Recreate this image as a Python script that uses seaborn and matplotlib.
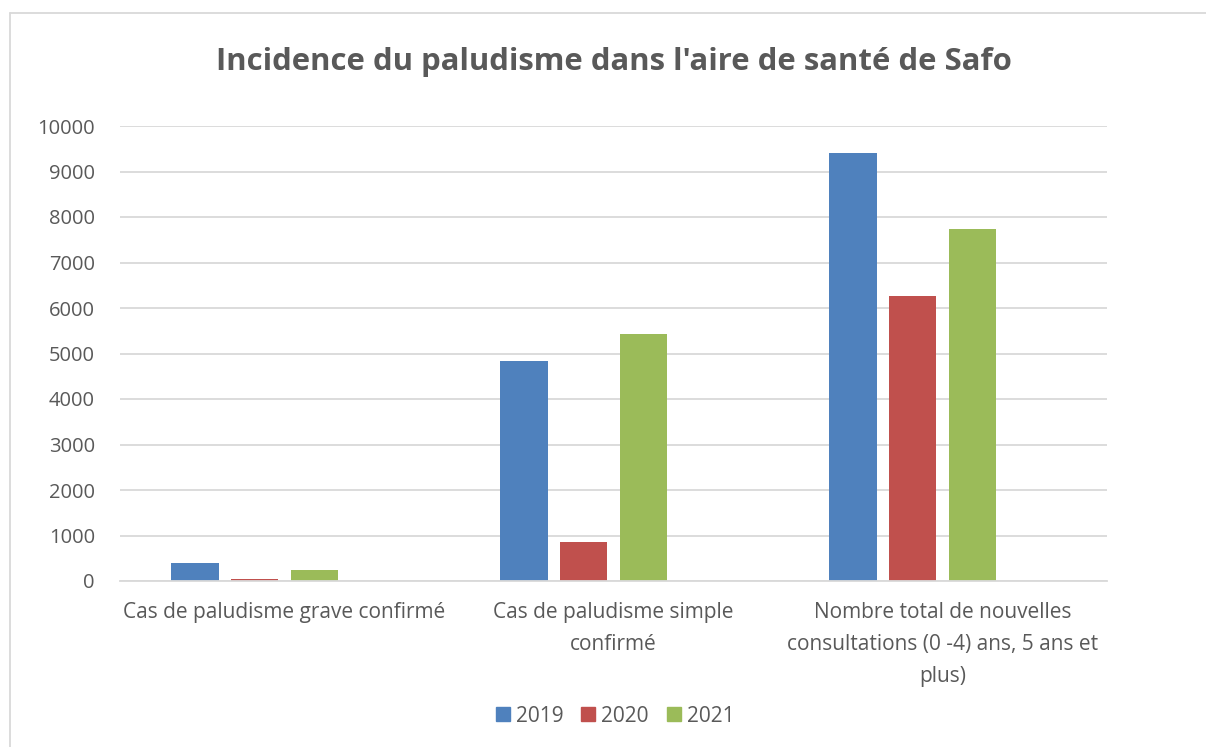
import numpy as np
import pandas as pd
import matplotlib
matplotlib.use("Agg")
import matplotlib.pyplot as plt
from matplotlib.lines import Line2D
from matplotlib.patches import Patch
import seaborn as sns

categories = ["Cas de paludisme grave confirmé",
              "Cas de paludisme simple\nconfirmé",
              "Nombre total de nouvelles\nconsultations (0 -4) ans, 5 ans et\nplus)"]
years = ["2019", "2020", "2021"]
v2019 = [400, 4830, 9410]
v2020 = [45, 860, 6260]
v2021 = [245, 5430, 7740]
# empty fourth series in the source sheet (keeps the bars off-centre)
v_empty = [0, 0, 0]

colors = ["#4F81BD", "#C0504D", "#9BBB59", "#FFFFFF"]
text_gray = "#595959"
grid_gray = "#D9D9D9"

rows = []
for name, vals in zip(years + [" "], [v2019, v2020, v2021, v_empty]):
    for c, v in zip(categories, vals):
        rows.append({"cat": c, "year": name, "value": v})
df = pd.DataFrame(rows)

sns.set_theme(style="white")
plt.rcParams["font.family"] = ["Open Sans", "DejaVu Sans"]

fig = plt.figure(figsize=(12.06, 7.47), dpi=100)
ax = fig.add_axes([120 / 1206, 1 - 581 / 747, 987 / 1206, 455 / 747])

sns.barplot(data=df, x="cat", y="value", hue="year",
            hue_order=years + [" "], palette=colors, saturation=1,
            width=0.725, gap=0.21, linewidth=0, ax=ax, legend=False)

ax.set_ylim(0, 10000)
ax.set_xlim(-0.5, 2.5)
ax.set_yticks(np.arange(0, 10001, 1000))
ax.yaxis.grid(True, color=grid_gray, linewidth=1.3)
ax.set_axisbelow(True)
for s in ["top", "right", "left"]:
    ax.spines[s].set_visible(False)
ax.spines["bottom"].set_color(grid_gray)
ax.spines["bottom"].set_linewidth(1.3)
ax.tick_params(axis="both", length=0, colors=text_gray)
ax.tick_params(axis="y", pad=18, labelsize=14.5)
ax.tick_params(axis="x", pad=15, labelsize=15)
for lbl in ax.get_xticklabels():
    lbl.set_linespacing(1.7)
ax.set_xlabel("")
ax.set_ylabel("")

ax.set_title("Incidence du paludisme dans l'aire de santé de Safo",
             fontsize=22.4, fontweight="bold", color=text_gray, pad=40)

handles = [Patch(color=c, label=y) for c, y in zip(colors[:3], years)]
fig.legend(handles=handles, loc="center", bbox_to_anchor=(615 / 1206, 1 - 716 / 747),
           ncol=3, frameon=False, fontsize=15, labelcolor=text_gray,
           handlelength=0.67, handleheight=0.67, handletextpad=0.3, columnspacing=0.85)

# chart area frame (only top and left edges fall inside the picture)
fig.add_artist(Line2D([9.5 / 1206, 9.5 / 1206], [0, 1 - 13 / 747], color=grid_gray,
                      linewidth=1.3, transform=fig.transFigure))
fig.add_artist(Line2D([9.5 / 1206, 1], [1 - 13 / 747, 1 - 13 / 747], color=grid_gray,
                      linewidth=1.3, transform=fig.transFigure))

fig.savefig("out.png", dpi=100)
